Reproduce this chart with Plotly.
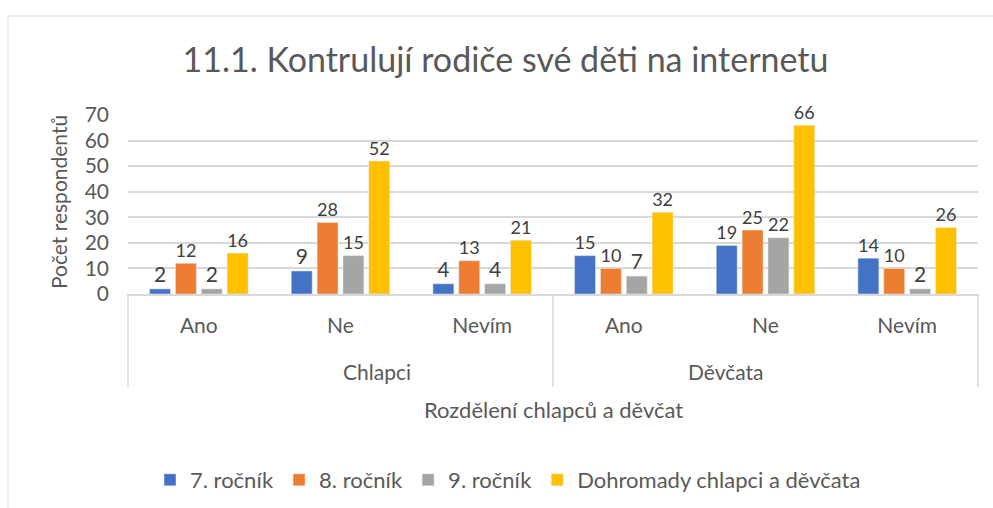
import plotly.graph_objects as go

groups = ["Chlapci", "Chlapci", "Chlapci", "Děvčata", "Děvčata", "Děvčata"]
answers = ["Ano", "Ne", "Nevím", "Ano", "Ne", "Nevím"]
group_names = ["Chlapci", "Děvčata"]
series_names = ["7. ročník", "8. ročník", "9. ročník", "Dohromady chlapci a děvčata"]
r7 = [2, 9, 4, 15, 19, 14]
r8 = [12, 28, 13, 10, 25, 10]
r9 = [2, 15, 4, 7, 22, 2]
total = [16, 52, 21, 32, 66, 26]
colors = ["#4472C4", "#ED7D31", "#A5A5A5", "#FFC000"]

FONT = "Lato"
W, H = 993, 508
L, R, T, B = 128, 15, 115, 214
pw, ph = W - L - R, H - T - B
TXT = "#595959"

cats = [f"{g} {a}" for g, a in zip(groups, answers)]

fig = go.Figure()
for name, vals, c in zip(series_names, [r7, r8, r9, total], colors):
    fig.add_trace(go.Bar(
        x=cats, y=vals, name=name, marker_color=c,
        text=vals, textposition="outside", cliponaxis=False,
        textfont=dict(family=FONT, size=21, color="#404040"),
    ))

def px2x(px):
    return (px - L) / pw

def py2y(py):
    return (H - B - py) / ph

# chart border
fig.add_shape(type="rect", xref="paper", yref="paper",
              x0=px2x(8), x1=px2x(994), y0=py2y(510), y1=py2y(16),
              line=dict(color="#D9D9D9", width=1), layer="below")
# category box dividers
n_groups = len(group_names)
for i in range(n_groups + 1):
    xp = i / n_groups
    fig.add_shape(type="line", xref="paper", yref="paper",
                  x0=xp, x1=xp, y0=0, y1=py2y(387),
                  line=dict(color="#D9D9D9", width=1.5))
for i, g in enumerate(group_names):
    fig.add_annotation(text=g, xref="paper", yref="paper",
                       x=(i + 0.5) / n_groups, y=py2y(371), yanchor="middle",
                       showarrow=False, font=dict(family=FONT, size=21, color=TXT))
fig.add_annotation(text="Rozdělení chlapců a děvčat", xref="paper", yref="paper",
                   x=0.5, y=py2y(409), yanchor="middle",
                   showarrow=False, font=dict(family=FONT, size=22, color=TXT))
fig.add_annotation(text="Počet respondentů", xref="paper", yref="paper",
                   x=px2x(58), y=py2y(202), xanchor="center", yanchor="middle", textangle=-90,
                   showarrow=False, font=dict(family=FONT, size=21, color=TXT))

fig.update_layout(
    width=W, height=H,
    margin=dict(l=L, r=R, t=T, b=B, autoexpand=False),
    paper_bgcolor="white", plot_bgcolor="white",
    barmode="group", bargap=0.27, bargroupgap=0.19,
    font=dict(family=FONT, color=TXT),
    title=dict(text="11.1. Kontrulují rodiče své děti na internetu",
               x=(178 + 833) / 2 / W, xanchor="center", y=1 - 60 / H, yanchor="middle",
               font=dict(family=FONT, size=34, color=TXT)),
    legend=dict(orientation="h", x=px2x(508), xanchor="center", y=py2y(480), yanchor="middle",
                font=dict(family=FONT, size=22, color=TXT),
                itemwidth=30, tracegroupgap=0),
    showlegend=True,
)
fig.update_yaxes(range=[0, 70], dtick=10, showgrid=True, gridcolor="#D9D9D9", gridwidth=1.5,
                 zeroline=False, showline=False, ticks="", automargin=False,
                 ticklabelstandoff=18,
                 tickfont=dict(family=FONT, size=21, color=TXT))
fig.update_xaxes(type="category", showline=True, linecolor="#D9D9D9", linewidth=1.5,
                 tickvals=cats, ticktext=answers, ticks="", automargin=False,
                 ticklabelstandoff=12,
                 tickfont=dict(family=FONT, size=21, color=TXT))

fig.write_html("out.html", config={"displayModeBar": False},
               post_script="document.body.style.margin='0';")
